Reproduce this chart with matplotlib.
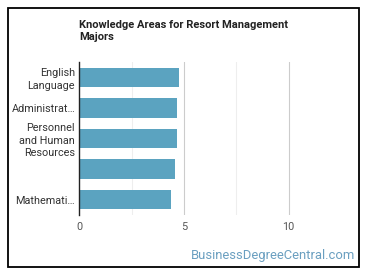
import matplotlib.pyplot as plt
from matplotlib.patches import Rectangle

areas = ['English\nLanguage', 'Administrat\u2026', 'Personnel\nand Human\nResources', '', 'Mathemati\u2026']
scores = [4.78, 4.69, 4.69, 4.59, 4.40]
xticks = [0, 5, 10]

plt.rcParams['font.family'] = ['Roboto', 'DejaVu Sans']

fig = plt.figure(figsize=(3.7, 2.78), dpi=100)
ax = fig.add_axes([0.2143, 0.2266, 0.707, 0.5504])

y = list(range(len(areas)))
ax.barh(y, scores, height=0.63, color='#5ba3c0', zorder=3)
ax.set_ylim(len(areas) - 0.5, -0.5)
ax.set_xlim(0, 12.5)

# major and minor gridlines
for v in [2.5, 7.5]:
    ax.axvline(v, color='#eeeeee', lw=0.8, zorder=1)
for v in [5, 10]:
    ax.axvline(v, color='#cccccc', lw=0.8, zorder=1)

ax.set_xticks(xticks)
ax.set_xticklabels([str(t) for t in xticks], fontsize=7.8, color='#555555')
ax.set_yticks(y)
ax.set_yticklabels(areas, fontsize=7.8, color='#333333', linespacing=1.3)
ax.tick_params(axis='both', length=0)
ax.tick_params(axis='x', pad=5)
ax.tick_params(axis='y', pad=3)

for s in ['top', 'right', 'bottom']:
    ax.spines[s].set_visible(False)
ax.spines['left'].set_color('#222222')
ax.spines['left'].set_linewidth(1)
ax.spines['left'].set_zorder(4)

fig.text(79 / 370, 1 - 20 / 278, 'Knowledge Areas for Resort Management\nMajors',
         fontsize=8, fontweight='bold', color='#222222', ha='left', va='top',
         linespacing=1.3)

fig.text(355 / 370, 1 - 255 / 278, 'BusinessDegreeCentral.com', fontsize=9.4,
         color='#6a9fc0', ha='right', va='center')

fig.patches.append(Rectangle((7.5 / 370, 1 - 266.5 / 278), 351.5 / 370, 259 / 278,
                             transform=fig.transFigure, fill=False,
                             edgecolor='black', lw=1.3))

fig.savefig('out.png', dpi=100)
